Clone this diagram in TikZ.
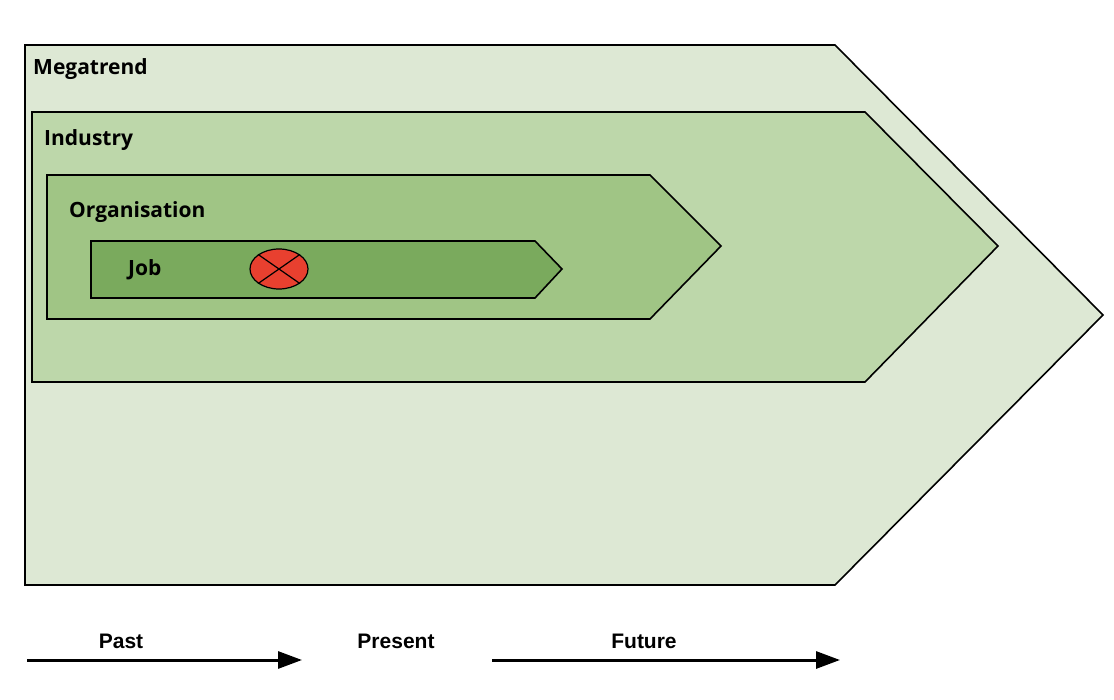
\documentclass[tikz,border=0pt]{standalone}
\usepackage{fontspec}
\setmainfont{Open Sans}
\newfontfamily\arialf{Liberation Sans}
\usetikzlibrary{arrows.meta,shapes.geometric}
\definecolor{gA}{HTML}{DDE8D4}
\definecolor{gB}{HTML}{BDD7AA}
\definecolor{gC}{HTML}{A0C585}
\definecolor{gD}{HTML}{7AAA5D}
\definecolor{rd}{HTML}{E8402F}
\begin{document}
\begin{tikzpicture}[x=1pt,y=-1pt,
  shp/.style={draw=black,line width=1.6pt,line join=miter},
  lab/.style={anchor=west,font=\fontsize{21}{24}\selectfont\bfseries,inner sep=0pt},
  tl/.style={font=\arialf\fontsize{21}{24}\selectfont\bfseries,inner sep=0pt},
  arr/.style={line width=3pt,-{Triangle[length=24pt,width=17pt]}}]
\useasboundingbox (0,0) rectangle (1114,700);
\fill[white] (0,0) rectangle (1114,700);
\draw[shp,fill=gA] (25,45) -- (835,45) -- (1103,315) -- (835,585) -- (25,585) -- cycle;
\draw[shp,fill=gB] (32,112) -- (865,112) -- (998,246) -- (865,382) -- (32,382) -- cycle;
\draw[shp,fill=gC] (47,175) -- (650,175) -- (721,246) -- (650,319) -- (47,319) -- cycle;
\draw[shp,fill=gD] (91,241) -- (535,241) -- (562,269) -- (535,298) -- (91,298) -- cycle;
\node[lab] (mt) at (33,69) {Megatrend};
\node[lab] (ind) at (44,140) {Industry};
\node[lab] (org) at (69,212) {Organisation};
\node[lab] (job) at (128,270) {Job};
\node[draw=black,line width=1.2pt,fill=rd,ellipse,minimum width=58pt,minimum height=40pt,inner sep=0pt] (x) at (279,269) {};
\draw[line width=1.2pt] (x.north west) -- (x.south east) (x.north east) -- (x.south west);
\node[tl] (past) at (121,641) {Past};
\node[tl] (pres) at (396,641) {Present};
\node[tl] (fut) at (644,641) {Future};
\coordinate (a1) at (27,660); \coordinate (b1) at (302,660);
\coordinate (a2) at (492,660); \coordinate (b2) at (840,660);
\draw[arr] (a1) -- (b1);
\draw[arr] (a2) -- (b2);
\end{tikzpicture}
\end{document}
